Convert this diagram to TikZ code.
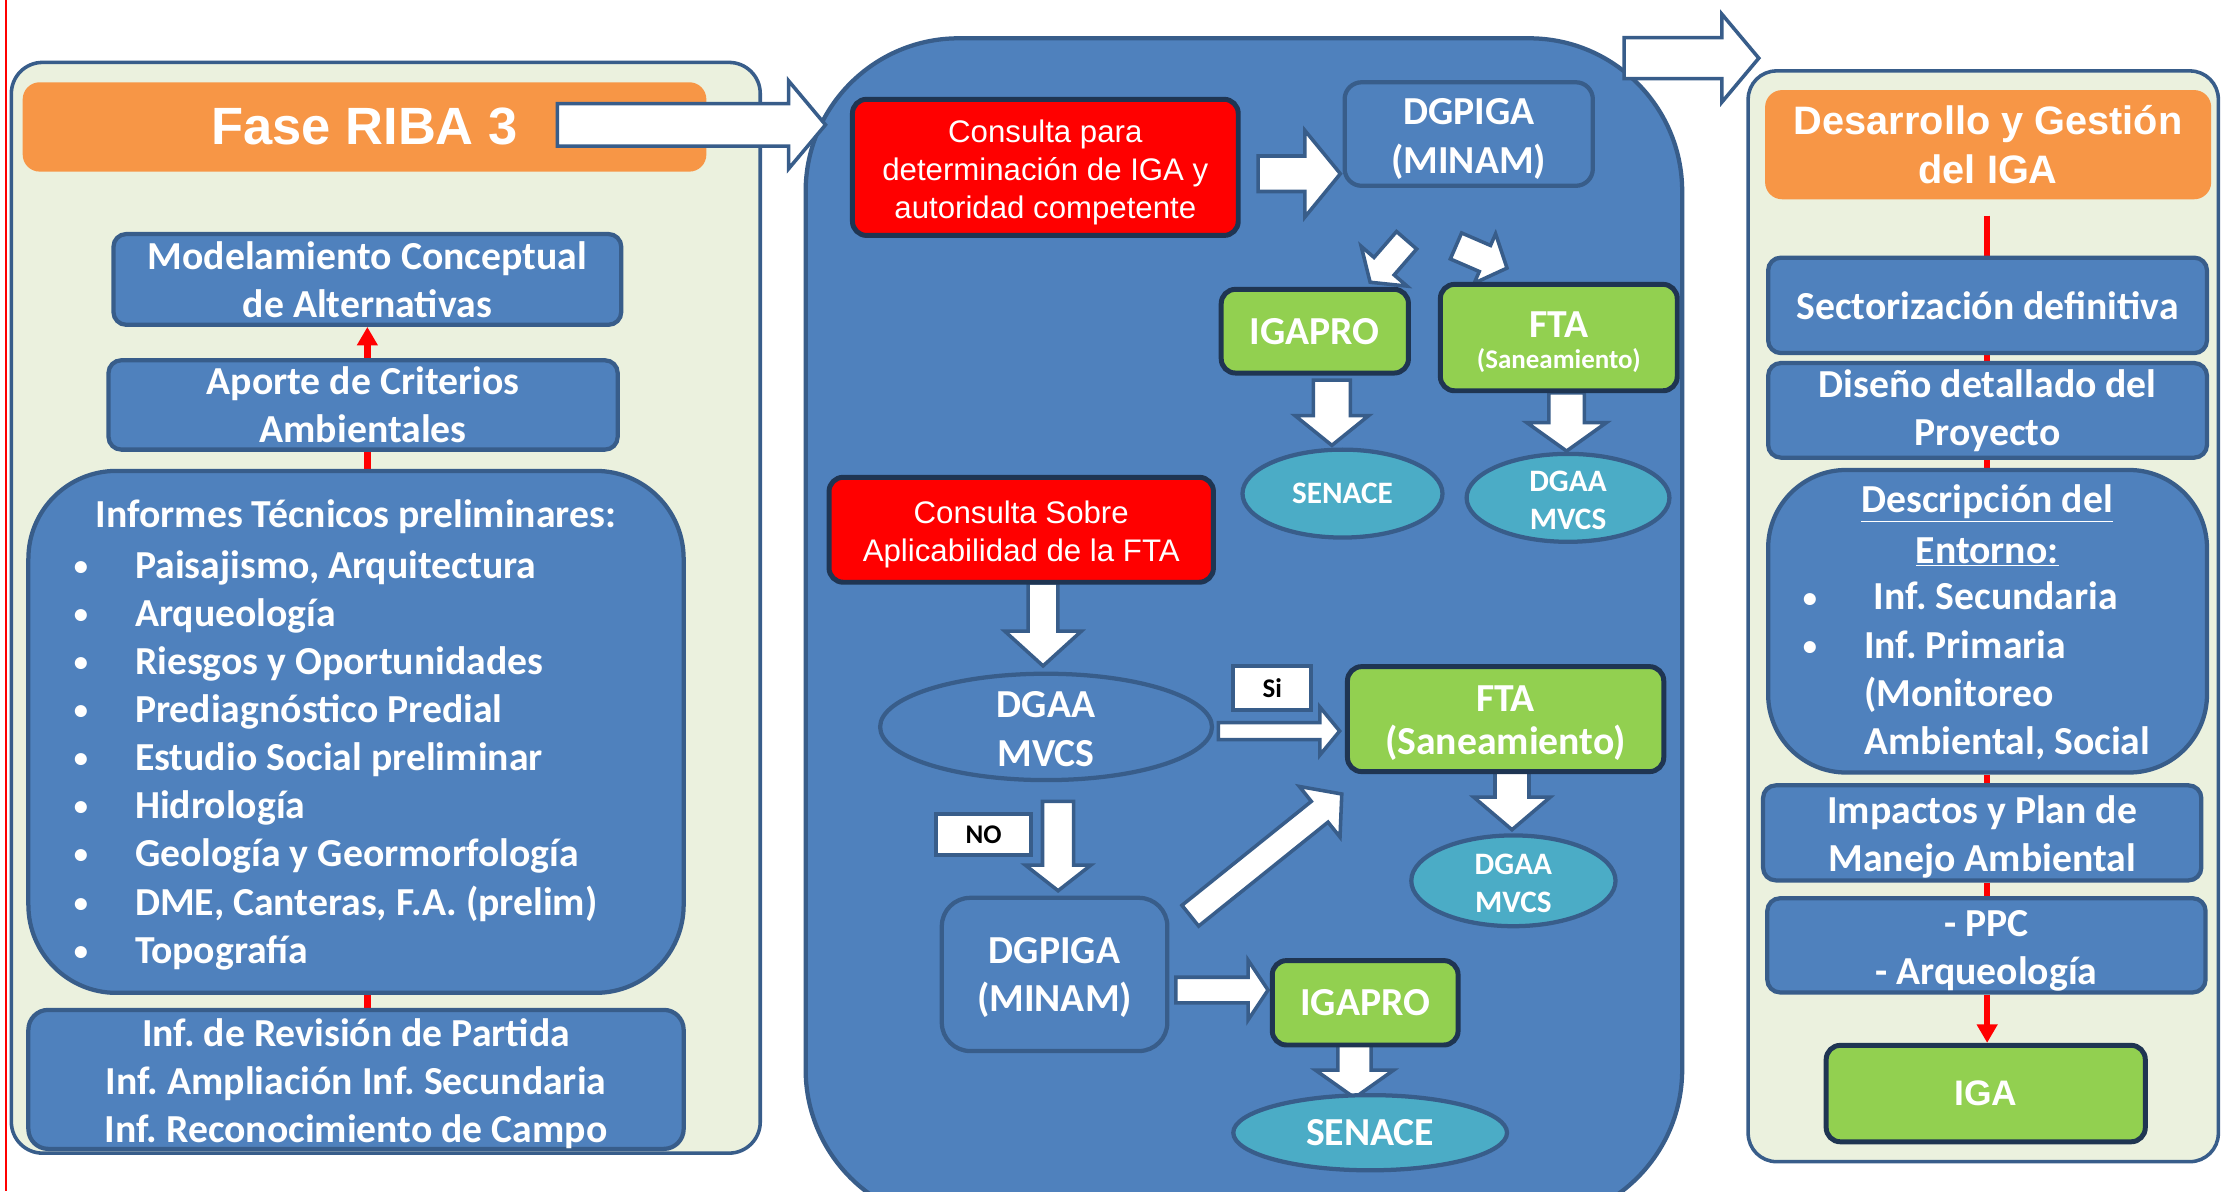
\documentclass[tikz,border=0pt]{standalone}
\usepackage{fontspec}
\setmainfont{Carlito}
\newfontfamily\arialf{Liberation Sans}
\usetikzlibrary{calc,shapes.geometric,arrows.meta}
\frenchspacing
\definecolor{bluef}{HTML}{4F81BD}
\definecolor{bord}{HTML}{385D8A}
\definecolor{darkb}{HTML}{1F3552}
\definecolor{panelf}{HTML}{EBF1DE}
\definecolor{orangef}{HTML}{F79646}
\definecolor{greenf}{HTML}{92D050}
\definecolor{tealf}{HTML}{4BACC6}
\definecolor{redf}{HTML}{FF0000}
\newcommand{\fcal}{\fontsize{28}{34}\selectfont\bfseries\frenchspacing}
\newcommand{\fcalS}{\fontsize{22}{27}\selectfont\bfseries}
\newcommand{\fari}{\arialf\fontsize{22}{27}\selectfont}
\newcommand{\ftitle}{\arialf\fontsize{37}{40}\selectfont\bfseries}
\newcommand{\ftitleB}{\arialf\fontsize{28}{34}\selectfont\bfseries}
\newcommand{\barrow}[5]{%
  \coordinate (bah) at ($(#2)!#5!(#1)$);
  \draw[warrow] ($(#1)!#3!90:(#2)$) -- ($(bah)!#3!90:(#2)$) -- ($(bah)!#4!90:(#2)$) -- (#2)
    -- ($(bah)!#4!-90:(#2)$) -- ($(bah)!#3!-90:(#2)$) -- ($(#1)!#3!-90:(#2)$) -- cycle;}
% text placed in a box, moved down by #2 units
\newcommand{\boxtext}[4]{\node[txt, align=center, font=#3] (#1t) at ($(#1)+(0,#2)$) {#4};}
\tikzset{
  panelbox/.style={draw=bord, line width=2.5pt, fill=panelf, rounded corners=22pt},
  cpanel/.style={draw=bord, line width=3pt, fill=bluef, rounded corners=108pt},
  obox/.style={fill=orangef, rounded corners=12pt, text=white, align=center, inner sep=0pt},
  bbox/.style={draw=bord, line width=3pt, fill=bluef, rounded corners=9pt, text=white, align=center, inner sep=0pt, font=\fcal},
  rbox/.style={draw=darkb, line width=3.5pt, fill=redf, rounded corners=10pt, text=white, align=center, inner sep=0pt, font=\fari},
  gbox/.style={draw=darkb, line width=3.5pt, fill=greenf, rounded corners=10pt, text=white, align=center, inner sep=0pt, font=\fcal},
  tell/.style={ellipse, draw=bord, line width=3pt, fill=tealf, text=white, align=center, inner sep=0pt, font=\fcalS},
  bell/.style={ellipse, draw=bord, line width=3pt, fill=bluef, text=white, align=center, inner sep=0pt, font=\fcal},
  lbl/.style={draw=bord, line width=3pt, fill=white, text=black, inner sep=0pt, font=\fontsize{19}{22}\selectfont\bfseries},
  warrow/.style={draw=bord, line width=2.5pt, fill=white},
  redln/.style={draw=redf, line width=4.5pt},
  redar/.style={redln, -{Triangle[width=14pt,length=13pt]}},
  txt/.style={text=white, inner sep=0pt, font=\fcal},
  bul/.style={text=white, inner sep=0pt, font=\fontsize{20}{24}\selectfont\bfseries, anchor=base},
}
\begin{document}
\frenchspacing
\begin{tikzpicture}[x=1pt,y=-1pt]
\useasboundingbox (0,0) rectangle (1568,840);
\fill[white] (0,0) rectangle (1568,840);
\draw[redf, line width=1.2pt] (4.3,0) -- (4.3,840);

% ---------------- left panel
\node[panelbox, minimum width=528pt, minimum height=769pt] (lpan) at (272,428.5) {};
\node[obox, minimum width=482pt, minimum height=63pt, font=\ftitle] (fase) at (257,89.5) {Fase RIBA 3};
\coordinate (lx) at (259,0);
\node[bbox, draw=none, fill=none, minimum width=358pt, minimum height=64pt] (model) at (259,197) {};
\node[bbox, draw=none, fill=none, minimum width=359pt, minimum height=63pt] (aporte) at (256,285.5) {};
\node[bbox, draw=none, fill=none, minimum width=462pt, minimum height=368pt] (informes) at (251,516) {};
\node[bbox, draw=none, fill=none, minimum width=462pt, minimum height=98pt] (revision) at (251,761) {};
\draw[redln] (lx |- aporte.south) -- (lx |- informes.north);
\draw[redln] (lx |- informes.south) -- (lx |- revision.north);
\node[bbox, minimum width=358pt, minimum height=64pt] (model) at (259,197) {Modelamiento Conceptual\\de Alternativas};
\node[bbox, minimum width=359pt, minimum height=63pt] (aporte) at (256,285.5) {Aporte de Criterios\\Ambientales};
\node[bbox, rounded corners=62pt, minimum width=462pt, minimum height=368pt] (informes) at (251,516) {};
\node[txt] (infh) at (251,364) {Informes Técnicos preliminares:};
\foreach \yy/\itm [count=\k] in {399/{Paisajismo, Arquitectura}, 432.5/{Arqueología}, 466.6/{Riesgos y Oportunidades}, 500.4/{Prediagnóstico Predial}, 534.4/{Estudio Social preliminar}, 568/{Hidrología}, 602/{Geología y Geormorfología}, 636.4/{DME, Canteras, F.A. (prelim)}, 670/{Topografía}}{
  \node[bul] (bl\k) at (57,\yy+7) {•};
  \node[txt, anchor=base west] (it\k) at (95,\yy+9) {\itm};
}
\node[bbox, rounded corners=14pt, minimum width=462pt, minimum height=98pt] (revision) at (251,761) {};
\boxtext{revision}{3}{\fcal}{Inf. de Revisión de Partida\\Inf. Ampliación Inf. Secundaria\\Inf. Reconocimiento de Campo}
\draw[redar] (lx |- aporte.north) -- (lx |- model.south);

% ---------------- center panel
\node[cpanel, minimum width=618pt, minimum height=835pt] (cpan) at (877,444.5) {};
\coordinate (a1s) at (887,122.5);   \coordinate (a1e) at (945,122.5);
\coordinate (a2s) at (991.7,169.4); \coordinate (a2e) at (966,199);
\coordinate (a3s) at (1026.5,173.4);\coordinate (a3e) at (1062.5,189);
\coordinate (a4s) at (939,268);     \coordinate (a4e) at (939,314);
\coordinate (a5s) at (1104.5,277);  \coordinate (a5e) at (1104.5,318);
\coordinate (a6s) at (735.4,411);   \coordinate (a6e) at (735.4,469.5);
\coordinate (a7s) at (859,515.4);   \coordinate (a7e) at (944.5,515.4);
\coordinate (a8s) at (1066,543);    \coordinate (a8e) at (1066,585);
\coordinate (a9s) at (746,565);     \coordinate (a9e) at (746,628);
\coordinate (a10s) at (839.2,645.6);\coordinate (a10e) at (946,559.8);
\coordinate (a11s) at (829,698);    \coordinate (a11e) at (894,698);
\coordinate (a12s) at (955,733);    \coordinate (a12e) at (955,774);
\barrow{a1s}{a1e}{12.5pt}{30.5pt}{25pt}
\barrow{a2s}{a2e}{9.4pt}{21.4pt}{15pt}
\barrow{a3s}{a3e}{10pt}{19pt}{17pt}
\barrow{a4s}{a4e}{13pt}{26pt}{21pt}
\barrow{a5s}{a5e}{12.5pt}{28pt}{20pt}
\barrow{a6s}{a6e}{10.5pt}{27pt}{24.5pt}
\barrow{a7s}{a7e}{6pt}{17pt}{14pt}
\barrow{a8s}{a8e}{12pt}{27pt}{23pt}
\barrow{a9s}{a9e}{11pt}{23pt}{18pt}
\barrow{a10s}{a10e}{9.4pt}{22.9pt}{20pt}
\barrow{a11s}{a11e}{9pt}{21pt}{14pt}
\barrow{a12s}{a12e}{11.7pt}{27.5pt}{19.5pt}

\node[rbox, minimum width=272pt, minimum height=96pt] (cons1) at (737,118) {};
\boxtext{cons1}{3.5}{\fari}{Consulta para\\determinación de IGA y\\autoridad competente}
\node[bbox, rounded corners=12pt, minimum width=175pt, minimum height=73pt] (dgpiga1) at (1035.5,94.5) {};
\boxtext{dgpiga1}{3.5}{\fcal}{DGPIGA\\(MINAM)}
\node[gbox, minimum width=132pt, minimum height=59pt] (igapro1) at (927,233.5) {IGAPRO};
\node[gbox, minimum width=167pt, minimum height=75pt] (fta1) at (1099,238) {};
\node[txt] (fta1a) at (1099,229) {FTA};
\node[txt, font=\fontsize{19}{22}\selectfont\bfseries] (fta1b) at (1099,254) {(Saneamiento)};
\node[tell, minimum width=141pt, minimum height=62pt] (senace1) at (946.5,348) {SENACE};
\node[tell, minimum width=143pt, minimum height=62pt] (dgaa1) at (1105.5,351) {};
\boxtext{dgaa1}{2}{\fcalS}{DGAA\\MVCS}
\node[rbox, minimum width=271pt, minimum height=74pt] (cons2) at (720,373.5) {};
\boxtext{cons2}{3.5}{\fari}{Consulta Sobre\\Aplicabilidad de la FTA}
\node[bell, minimum width=234pt, minimum height=75pt] (dgaa2) at (737.5,512.5) {};
\boxtext{dgaa2}{1.5}{\fcal}{DGAA\\MVCS}
\node[lbl, minimum width=55pt, minimum height=31pt] (si) at (897,485) {Si};
\node[gbox, minimum width=223pt, minimum height=74pt] (fta2) at (1061.5,507) {};
\boxtext{fta2}{3}{\fontsize{28}{30}\selectfont\bfseries}{FTA\\(Saneamiento)}
\node[tell, minimum width=144pt, minimum height=64pt] (dgaa3) at (1067,621) {};
\boxtext{dgaa3}{2}{\fcalS}{DGAA\\MVCS}
\node[lbl, minimum width=67pt, minimum height=29pt] (no) at (693.5,588.3) {NO};
\node[bbox, rounded corners=20pt, minimum width=159pt, minimum height=108pt] (dgpiga2) at (743.5,687) {};
\boxtext{dgpiga2}{2}{\fcal}{DGPIGA\\(MINAM)}
\node[gbox, minimum width=131pt, minimum height=59.5pt] (igapro2) at (962.5,707) {IGAPRO};
\node[tell, minimum width=193pt, minimum height=53pt, font=\fcal] (senace2) at (966,798.6) {SENACE};

% ---------------- right panel
\node[panelbox, rounded corners=20pt, minimum width=331.5pt, minimum height=769pt] (rpan) at (1398.25,434.5) {};
\node[obox, minimum width=314.5pt, minimum height=77pt, font=\ftitleB] (desa) at (1401.7,102) {Desarrollo y Gestión\\del IGA};
\coordinate (rtop) at (1401,152);
\node[bbox, draw=none, fill=none, minimum width=309.4pt, minimum height=67.3pt] (sect) at (1401.3,215.3) {};
\node[bbox, draw=none, fill=none, minimum width=309.4pt, minimum height=66.7pt] (dise) at (1401.3,289.3) {};
\node[bbox, draw=none, fill=none, minimum width=309.4pt, minimum height=213.3pt] (desc) at (1401.3,438) {};
\node[bbox, draw=none, fill=none, minimum width=309pt, minimum height=67pt] (impa) at (1397.5,587.2) {};
\node[bbox, draw=none, fill=none, minimum width=309pt, minimum height=66.4pt] (ppc) at (1400.5,666.5) {};
\draw[redln] (rtop) -- (rtop |- sect.north);
\draw[redln] (rtop |- sect.south) -- (rtop |- dise.north);
\draw[redln] (rtop |- dise.south) -- (rtop |- desc.north);
\draw[redln] (rtop |- desc.south) -- (rtop |- impa.north);
\draw[redln] (rtop |- impa.south) -- (rtop |- ppc.north);
\node[bbox, minimum width=309.4pt, minimum height=67.3pt] (sect) at (1401.3,215.3) {Sectorización definitiva};
\node[bbox, minimum width=309.4pt, minimum height=66.7pt] (dise) at (1401.3,289.3) {Diseño detallado del\\Proyecto};
\node[bbox, rounded corners=55pt, minimum width=309.4pt, minimum height=213.3pt] (desc) at (1401.3,438) {};
\node[txt] (desc1) at (1401,355) {\underline{Descripción del}};
\node[txt] (desc2) at (1401,389) {\underline{Entorno:}};
\node[bul] (db1) at (1276,428) {•};
\node[bul] (db2) at (1276,462) {•};
\node[txt, anchor=base west] (dt1) at (1321,430) {Inf. Secundaria};
\node[txt, anchor=base west] (dt2) at (1314,464) {Inf. Primaria};
\node[txt, anchor=base west] (dt3) at (1314,498) {(Monitoreo};
\node[txt, anchor=base west] (dt4) at (1314,532) {Ambiental, Social};
\node[bbox, minimum width=309pt, minimum height=67pt] (impa) at (1397.5,587.2) {};
\boxtext{impa}{3}{\fcal}{Impactos y Plan de\\Manejo Ambiental}
\node[bbox, minimum width=309pt, minimum height=66.4pt] (ppc) at (1400.5,666.5) {};
\boxtext{ppc}{4}{\fcal}{- PPC\\- Arqueología}
\node[gbox, minimum width=225pt, minimum height=68pt, font=\arialf\fontsize{25}{30}\selectfont\bfseries] (iga) at (1400,771) {IGA};
\draw[redar] (rtop |- ppc.south) -- (rtop |- iga.north);

% ---------------- big connecting arrows
\coordinate (a0s) at (393,88);   \coordinate (a0e) at (582,88);
\coordinate (a13s) at (1145,41); \coordinate (a13e) at (1240,41);
\barrow{a0s}{a0e}{15pt}{31pt}{26pt}
\barrow{a13s}{a13e}{14.5pt}{31pt}{26pt}
\end{tikzpicture}
\end{document}
